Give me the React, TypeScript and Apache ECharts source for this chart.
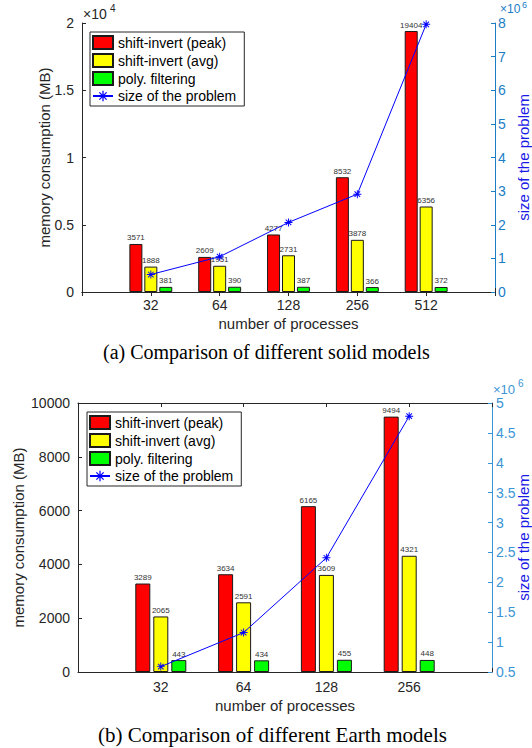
import React, { useEffect, useRef } from "react";
import * as echarts from "echarts";

// ---- data: (a) solid models ----
const categoriesA = ["32", "64", "128", "256", "512"];
const peakA = [3571, 2609, 4277, 8532, 19404];
const avgA = [1888, 1951, 2731, 3878, 6356];
const polyA = [381, 390, 387, 366, 372];
const sizeA = [0.52e6, 1.05e6, 2.07e6, 2.91e6, 7.96e6];

// ---- data: (b) Earth models ----
const categoriesB = ["32", "64", "128", "256"];
const peakB = [3289, 3634, 6165, 9494];
const avgB = [2065, 2591, 3609, 4321];
const polyB = [443, 434, 455, 448];
const sizeB = [0.59e6, 1.16e6, 2.41e6, 4.78e6];

const seriesNames = ["shift-invert (peak)", "shift-invert (avg)", "poly. filtering", "size of the problem"];
const captionA = "(a) Comparison of different solid models";
const captionB = "(b) Comparison of different Earth models";

const padCat = (a: string[]) => ["", ...a, ""];
const padVal = (a: number[]) => [null, ...a, null];

const FONT = "Liberation Sans";
const TICK = "#262626";
const BLUE_A = "#1a7dc6";
const BLUE_B = "#3a95d5";
const TITLE_BLUE = "#1a1ae6";

const STAR =
  "path://M-0.12,-1L0.12,-1L0.12,1L-0.12,1Z" +
  "M-1,-0.12L1,-0.12L1,0.12L-1,0.12Z" +
  "M-0.615,-0.785L0.785,0.615L0.615,0.785L-0.785,-0.615Z" +
  "M0.615,-0.785L0.785,-0.615L-0.615,0.785L-0.785,0.615Z";

export default function App() {
  const ref = useRef<HTMLDivElement>(null);
  useEffect(() => {
    if (!ref.current) return;
    const chart = echarts.init(ref.current, undefined, { renderer: "svg" });

    const xAxisBase = (gridIndex: number, cats: string[], bottom: boolean, margin: number) => ({
      type: "category",
      gridIndex,
      data: padCat(cats),
      boundaryGap: false,
      position: bottom ? "bottom" : "top",
      axisLine: { show: true, lineStyle: { color: TICK, width: 1 } },
      axisTick: { show: true, inside: true, length: 4, interval: 0, lineStyle: { color: TICK } },
      axisLabel: bottom
        ? { show: true, interval: 0, fontSize: 14, color: TICK, fontFamily: FONT, margin }
        : { show: false },
      splitLine: { show: false },
      name: bottom ? "number of processes" : "",
      nameLocation: "middle",
      nameGap: 24,
      nameMoveOverlap: false,
      nameTextStyle: { fontSize: 15, color: TICK, fontFamily: FONT },
    });

    const barSeries = (
      name: string,
      data: number[],
      color: string,
      xi: number,
      yi: number,
      width: number,
      gap: string
    ) => ({
      type: "bar",
      name,
      xAxisIndex: xi,
      yAxisIndex: yi,
      data: padVal(data),
      barWidth: width,
      barGap: gap,
      itemStyle: { color, borderColor: "#1a1a1a", borderWidth: 1 },
      label: {
        show: true,
        position: "top",
        distance: 2,
        fontSize: 8,
        color: "#333",
        fontFamily: FONT,
      },
      z: 2,
    });

    const lineSeries = (data: number[], xi: number, yi: number) => ({
      type: "line",
      name: seriesNames[3],
      xAxisIndex: xi,
      yAxisIndex: yi,
      data: padVal(data),
      symbol: STAR,
      symbolSize: 8,
      showSymbol: true,
      connectNulls: false,
      itemStyle: { color: "#0000ff" },
      lineStyle: { color: "#0000ff", width: 1 },
      z: 5,
    });

    const legendBase = (left: number, top: number) => ({
      orient: "vertical",
      left,
      top,
      data: [
        { name: seriesNames[0], icon: "rect" },
        { name: seriesNames[1], icon: "rect" },
        { name: seriesNames[2], icon: "rect" },
        { name: seriesNames[3] },
      ],
      itemWidth: 20,
      itemHeight: 13,
      itemGap: 3,
      padding: [3, 8, 3, 2],
      borderColor: "#262626",
      borderWidth: 1,
      backgroundColor: "#fff",
      selectedMode: false,
      textStyle: { fontSize: 14, color: "#000", fontFamily: FONT },
    });

    const option: any = {
      animation: false,
      backgroundColor: "#fff",
      textStyle: { fontFamily: FONT },
      grid: [
        { left: 82, top: 23, width: 413, height: 269, containLabel: false, outerBoundsMode: "none" },
        { left: 78, top: 403, width: 414, height: 269, containLabel: false, outerBoundsMode: "none" },
      ],
      legend: [legendBase(90, 32), legendBase(87, 412)],
      xAxis: [
        xAxisBase(0, categoriesA, true, 6),
        xAxisBase(0, categoriesA, false, 6),
        { ...xAxisBase(1, categoriesB, true, 8), nameGap: 26 },
        xAxisBase(1, categoriesB, false, 8),
      ],
      yAxis: [
        {
          type: "value",
          gridIndex: 0,
          position: "left",
          min: 0,
          max: 20000,
          interval: 5000,
          axisLine: { show: true, lineStyle: { color: TICK } },
          axisTick: { show: true, inside: true, length: 4, lineStyle: { color: TICK } },
          axisLabel: {
            fontSize: 14,
            color: TICK,
            fontFamily: FONT,
            margin: 8,
            formatter: (v: number) => String(v / 10000),
          },
          splitLine: { show: false },
          name: "memory consumption (MB)",
          nameLocation: "middle",
          nameRotate: 90,
          nameGap: 30,
          nameMoveOverlap: false,
          nameTextStyle: { fontSize: 15, color: TICK, fontFamily: FONT },
        },
        {
          type: "value",
          gridIndex: 0,
          position: "right",
          min: 0,
          max: 8e6,
          interval: 1e6,
          axisLine: { show: true, lineStyle: { color: BLUE_A } },
          axisTick: { show: true, inside: true, length: 4, lineStyle: { color: BLUE_A } },
          axisLabel: {
            fontSize: 14,
            color: BLUE_A,
            fontFamily: FONT,
            margin: 3,
            formatter: (v: number) => String(v / 1e6),
          },
          splitLine: { show: false },
          name: "size of the problem",
          nameLocation: "middle",
          nameRotate: 90,
          nameGap: 21,
          nameMoveOverlap: false,
          nameTextStyle: { fontSize: 15, color: TITLE_BLUE, fontFamily: FONT },
        },
        {
          type: "value",
          gridIndex: 1,
          position: "left",
          min: 0,
          max: 10000,
          interval: 2000,
          axisLine: { show: true, lineStyle: { color: TICK } },
          axisTick: { show: true, inside: true, length: 4, lineStyle: { color: TICK } },
          axisLabel: {
            fontSize: 14,
            color: TICK,
            fontFamily: FONT,
            margin: 8,
            formatter: (v: number) => String(v),
          },
          splitLine: { show: false },
          name: "memory consumption (MB)",
          nameLocation: "middle",
          nameRotate: 90,
          nameGap: 52,
          nameMoveOverlap: false,
          nameTextStyle: { fontSize: 15, color: TICK, fontFamily: FONT },
        },
        {
          type: "value",
          gridIndex: 1,
          position: "right",
          min: 0.5e6,
          max: 5e6,
          interval: 0.5e6,
          axisLine: { show: true, lineStyle: { color: BLUE_B } },
          axisTick: { show: true, inside: true, length: 4, lineStyle: { color: BLUE_B } },
          axisLabel: {
            fontSize: 14,
            color: BLUE_B,
            fontFamily: FONT,
            margin: 4,
            formatter: (v: number) => String(v / 1e6),
          },
          splitLine: { show: false },
          name: "size of the problem",
          nameLocation: "middle",
          nameRotate: 90,
          nameGap: 24,
          nameMoveOverlap: false,
          nameTextStyle: { fontSize: 15, color: TITLE_BLUE, fontFamily: FONT },
        },
      ],
      series: [
        barSeries(seriesNames[0], peakA, "#ff0000", 0, 0, 13, "15%"),
        barSeries(seriesNames[1], avgA, "#ffff00", 0, 0, 13, "15%"),
        barSeries(seriesNames[2], polyA, "#00ff00", 0, 0, 13, "15%"),
        lineSeries(sizeA, 0, 1),
        barSeries(seriesNames[0], peakB, "#ff0000", 2, 2, 15, "20%"),
        barSeries(seriesNames[1], avgB, "#ffff00", 2, 2, 15, "20%"),
        barSeries(seriesNames[2], polyB, "#00ff00", 2, 2, 15, "20%"),
        lineSeries(sizeB, 2, 3),
      ],
      graphic: [
        { type: "text", x: 83, y: 14, style: { text: "×10", fontSize: 14, fill: TICK, fontFamily: FONT, textVerticalAlign: "middle" } },
        { type: "text", x: 110, y: 8, style: { text: "4", fontSize: 10, fill: TICK, fontFamily: FONT, textVerticalAlign: "middle" } },
        { type: "text", x: 500, y: 9, style: { text: "×10", fontSize: 12, fill: BLUE_A, fontFamily: FONT, textVerticalAlign: "middle" } },
        { type: "text", x: 522, y: 5, style: { text: "6", fontSize: 9, fill: BLUE_A, fontFamily: FONT, textVerticalAlign: "middle" } },
        { type: "text", x: 493, y: 389, style: { text: "×10", fontSize: 13, fill: BLUE_B, fontFamily: FONT, textVerticalAlign: "middle" } },
        { type: "text", x: 518, y: 383, style: { text: "6", fontSize: 10, fill: BLUE_B, fontFamily: FONT, textVerticalAlign: "middle" } },
        { type: "text", x: 103, y: 352, style: { text: captionA, fontSize: 20, fill: "#000", fontFamily: "Liberation Serif", textVerticalAlign: "middle" } },
        { type: "text", x: 98, y: 735, style: { text: captionB, fontSize: 21, fill: "#000", fontFamily: "Liberation Serif", textVerticalAlign: "middle" } },
      ],
    };

    chart.setOption(option);
    return () => chart.dispose();
  }, []);

  return (
    <div
      ref={ref}
      style={{ position: "fixed", left: 0, top: 0, width: 532, height: 748, background: "#fff" }}
    />
  );
}
